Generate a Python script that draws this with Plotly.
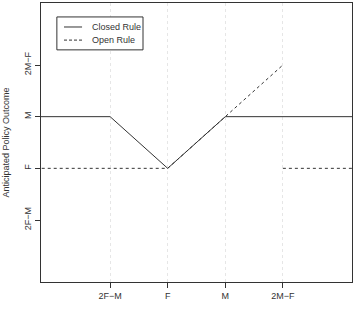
import plotly.graph_objects as go

# Data
tick_vals = [0, 1, 2, 3]
x_tick_labels = ["2F\u2212M", "F", "M", "2M\u2212F"]
y_tick_labels = ["2F\u2212M", "F", "M", "2M\u2212F"]

closed_x = [-1.5, 0, 1, 2, 4.5]
closed_y = [2, 2, 1, 2, 2]

open_x = [-1.5, 1, 3, None, 3, 4.5]
open_y = [1, 1, 3, None, 1, 1]

legend_labels = ["Closed Rule", "Open Rule"]

FONT = "Liberation Sans, Arial, sans-serif"
LINE = "#333333"
TEXT = "#333333"

fig = go.Figure()
fig.add_trace(go.Scatter(x=closed_x, y=closed_y, mode="lines",
                         line=dict(color=LINE, width=1), name=legend_labels[0],
                         showlegend=False))
fig.add_trace(go.Scatter(x=open_x, y=open_y, mode="lines",
                         line=dict(color=LINE, width=1, dash="3px,3px"),
                         name=legend_labels[1], showlegend=False, connectgaps=False))

# Manual legend (R-style)
fig.add_shape(type="rect", xref="paper", yref="paper",
              x0=0.051, x1=0.328, y0=0.832, y1=0.950,
              line=dict(color=LINE, width=1), fillcolor="white", layer="above")
rows_y = [0.914, 0.867]
dashes = ["solid", "3px,2px"]
for lab, yy, d in zip(legend_labels, rows_y, dashes):
    fig.add_shape(type="line", xref="paper", yref="paper",
                  x0=0.074, x1=0.132, y0=yy, y1=yy,
                  line=dict(color=LINE, width=1, dash=d), layer="above")
    fig.add_annotation(xref="paper", yref="paper", x=0.158, y=yy, text=lab,
                       showarrow=False, xanchor="left", yanchor="middle",
                       font=dict(family=FONT, size=9, color=TEXT))

fig.update_layout(
    width=355, height=313,
    margin=dict(l=41, r=3, t=3, b=31),
    paper_bgcolor="white", plot_bgcolor="white",
    font=dict(family=FONT, size=9, color=TEXT),
    showlegend=False,
    xaxis=dict(range=[-1.2, 4.2], tickvals=tick_vals, ticktext=x_tick_labels,
               showgrid=True, gridcolor="#e6e6e6", griddash="dot", gridwidth=1,
               zeroline=False, showline=True, linecolor=LINE, linewidth=1, mirror=True,
               ticks="outside", ticklen=5, tickcolor=LINE, tickfont=dict(size=9)),
    yaxis=dict(range=[-1.2, 4.2], tickvals=tick_vals, ticktext=y_tick_labels,
               showgrid=False, zeroline=False, showline=True, linecolor=LINE,
               linewidth=1, mirror=True, ticks="outside", ticklen=5, tickcolor=LINE,
               tickangle=-90, tickfont=dict(size=9),
               title=dict(text="Anticipated Policy Outcome", standoff=12,
                          font=dict(size=9))),
)

fig.write_html("out.html")
